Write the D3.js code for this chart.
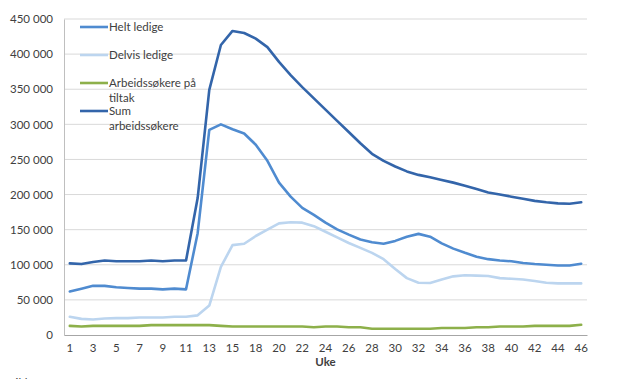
<!DOCTYPE html>
<html><head><meta charset="utf-8">
<script src="https://cdn.jsdelivr.net/npm/d3@7/dist/d3.min.js"></script>
<style>body{margin:0;background:#fff}svg{display:block}</style>
</head><body>
<svg id="c" width="620" height="379"></svg>
<script>
const weeks = [1,2,3,4,5,6,7,8,9,10,11,12,13,14,15,16,18,19,20,21,22,23,24,25,26,27,28,29,30,31,32,33,34,35,36,37,38,39,40,41,42,43,44,45,46];
const tickWeeks = [1,3,5,7,9,11,13,15,18,20,22,24,26,28,30,32,34,36,38,40,42,44,46];
const yTicks = [0,50000,100000,150000,200000,250000,300000,350000,400000,450000];
const heltLedige = [62,66,70,70,68,67,66,66,65,66,65,145,292,300,293,287,271,248,217,197,181,171,160,150.5,143,136,132,130,134,140,144,140,130.5,123,117,111.5,108,106,105,102.5,101,100,99,99,101.5].map(v=>v*1000);
const delvisLedige = [26,23,22,23.5,24,24,25,25,25,26,26,28,42,97,128,130,141,150,159,160.5,160,155,147,139,131,124,117,108,94,81,74.5,74,79,83.5,85,84.5,84,81,80,79,77,74.5,73.5,73.5,73.5].map(v=>v*1000);
const tiltak = [13,12,13,13,13,13,13,14,14,14,14,14,14,13,12,12,12,12,12,12,12,11,12,12,11,11,9,9,9,9,9,9,10,10,10,11,11,12,12,12,13,13,13,13,14.5].map(v=>v*1000);
const sumArbeid = [102,101,104,106,105,105,105,106,105,106,106,195,349,413,433,430,422,410,389,370,353,337,321,305,289,273,258,248,240,233,228,224.5,220.7,217,212.7,208,203,200,197,194,191,189,187.5,187,189].map(v=>v*1000);

const seriesNames = ["Helt ledige","Delvis ledige","Arbeidssøkere på tiltak","Sum arbeidssøkere"];
const seriesValues = [heltLedige, delvisLedige, tiltak, sumArbeid];
const colors = ["#4F8BD0","#BCD5EF","#8DB04A","#3365AA"];
const legendLines = [["Helt ledige"],["Delvis ledige"],["Arbeidssøkere på","tiltak"],["Sum","arbeidssøkere"]];

const svg = d3.select("#c");
const font = "Lato, 'Open Sans', sans-serif";
const pLeft = 64, pRight = 587, pTop = 19, pBottom = 335;

const x = d3.scaleBand().domain(weeks).range([pLeft, pRight]);
const y = d3.scaleLinear().domain([0,450000]).range([pBottom, pTop]);
const loc = d3.formatLocale({decimal:",", thousands:"\u00a0", grouping:[3], currency:["",""]});
const fmt = loc.format(",");

// gridlines
svg.append("g").selectAll("line").data(yTicks.filter(d=>d>0)).join("line")
  .attr("x1", pLeft).attr("x2", pRight)
  .attr("y1", d=>y(d)).attr("y2", d=>y(d))
  .attr("stroke", "#D9D9D9").attr("stroke-width", 1);

// y axis
const yAxis = svg.append("g").attr("transform", `translate(${pLeft},0)`)
  .call(d3.axisLeft(y).tickValues(yTicks).tickFormat(fmt).tickSize(0).tickPadding(11));
yAxis.select(".domain").attr("stroke", "#BFBFBF");
yAxis.selectAll("text").attr("font-family", font).attr("font-size", 11.5).attr("fill", "#404040");

// x axis
const xAxis = svg.append("g").attr("transform", `translate(0,${pBottom})`)
  .call(d3.axisBottom(x).tickValues(tickWeeks).tickSize(0).tickPadding(9));
xAxis.select(".domain").attr("stroke", "#A6A6A6");
xAxis.selectAll("text").attr("font-family", font).attr("font-size", 11.5).attr("fill", "#404040");

svg.append("text").attr("x", (pLeft+pRight)/2).attr("y", 366).attr("text-anchor","middle")
  .attr("font-family", font).attr("font-size", 11.5).attr("font-weight","bold").attr("fill","#404040").text("Uke");

svg.append("text").attr("x", 8).attr("y", 387)
  .attr("font-family", font).attr("font-size", 11.5).attr("fill","#404040").text("Kilde: NAV");

// lines
const line = d3.line().x((d,i)=>x(weeks[i]) + x.bandwidth()/2).y(d=>y(d));
[2,1,0,3].forEach(k=>{
  svg.append("path").datum(seriesValues[k])
    .attr("d", line).attr("fill","none").attr("stroke", colors[k])
    .attr("stroke-width", 2.6).attr("stroke-linejoin","round").attr("stroke-linecap","round");
});

// legend
const legY = [27, 55, 83, 111];
legendLines.forEach((lines,k)=>{
  svg.append("line").attr("x1", 80).attr("x2", 108).attr("y1", legY[k]).attr("y2", legY[k])
    .attr("stroke", colors[k]).attr("stroke-width", 2.6);
  lines.forEach((t,j)=>{
    svg.append("text").attr("x", 109).attr("y", legY[k] + 4 + j*14.5)
      .attr("font-family", font).attr("font-size", 11.5).attr("fill", "#404040").text(t);
  });
});
</script>
</body></html>
